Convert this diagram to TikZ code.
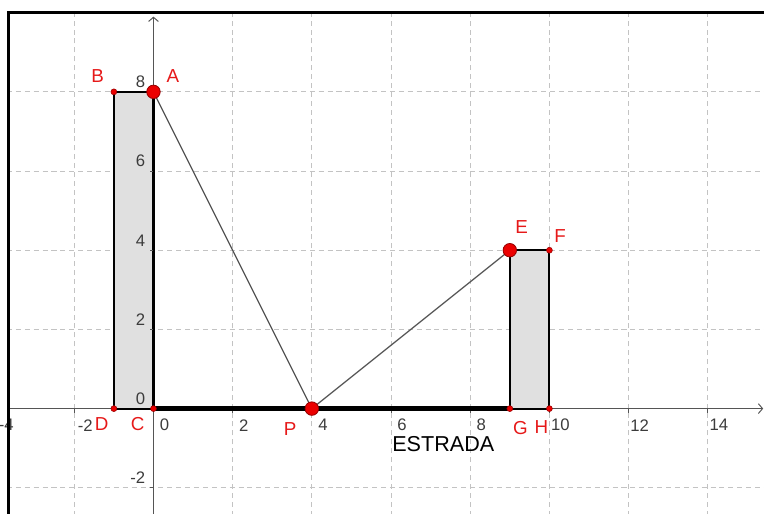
\documentclass[tikz,border=0pt]{standalone}
\usepackage{fontspec}
\setmainfont{Liberation Sans}
\usetikzlibrary{arrows.meta}
\definecolor{gridgray}{RGB}{195,195,195}
\definecolor{axisgray}{RGB}{85,85,85}
\definecolor{ticktext}{RGB}{60,60,60}
\definecolor{fillgray}{RGB}{224,224,224}
\definecolor{ptred}{RGB}{235,0,0}
\definecolor{ptedge}{RGB}{150,0,0}
\definecolor{lblred}{RGB}{230,25,25}

\begin{document}
\begin{tikzpicture}[
    gridline/.style={gridgray,line width=0.6pt,dash pattern=on 3.6pt off 2.8pt},
    axis/.style={axisgray,line width=0.7pt},
    building/.style={fill=fillgray,draw=black,line width=1.5pt,line join=miter},
    road/.style={black,line width=3.3pt},
    cable/.style={axisgray,line width=0.9pt},
    bigpt/.style={circle,fill=ptred,draw=ptedge,line width=0.6pt,minimum size=0.34cm,inner sep=0pt},
    smallpt/.style={circle,fill=ptred,draw=ptedge,line width=0.4pt,minimum size=0.15cm,inner sep=0pt},
    ptlbl/.style={text=lblred,font=\fontsize{13.5}{15}\selectfont,inner sep=0pt},
    ticklbl/.style={text=ticktext,font=\fontsize{12}{14}\selectfont,inner sep=0pt}
  ]
    \useasboundingbox (-3.876,-2.64) rectangle (15.42,10.32);

    % Frame corners
    \coordinate (fbot) at (-3.667,-2.7);
    \coordinate (fcorner) at (-3.667,10);
    \coordinate (fright) at (15.5,10);

    % Grid
    \begin{scope}
      \clip (-3.667,-2.7) rectangle (15.5,10);
      \foreach \x in {-2,2,4,...,14}
        \draw[gridline] (\x,-2.7) -- (\x,10);
      \foreach \y in {-2,2,4,6,8}
        \draw[gridline] (-3.7,\y) -- (15.5,\y);
    \end{scope}

    % Axes
    \coordinate (xstart) at (-3.667,0);
    \coordinate (xend) at (15.4,0);
    \coordinate (ybot) at (0,-2.7);
    \coordinate (ytop) at (0,9.9);
    \draw[axis,-{Straight Barb[length=3pt,width=7pt]}] (xstart) -- (xend);
    \draw[axis,-{Straight Barb[length=3pt,width=7pt]}] (ybot) -- (ytop);

    % Points of the problem
    \coordinate (A) at (0,8);
    \coordinate (B) at (-1,8);
    \coordinate (C) at (0,0);
    \coordinate (D) at (-1,0);
    \coordinate (P) at (4,0);
    \coordinate (E) at (9,4);
    \coordinate (F) at (10,4);
    \coordinate (G) at (9,0);
    \coordinate (H) at (10,0);

    % Buildings
    \draw[building] (B) -- (A) -- (C) -- (D) -- cycle;
    \draw[building] (E) -- (F) -- (H) -- (G) -- cycle;

    % Ticks
    \foreach \x in {-2,2,4,...,14}
      \draw[axis] (\x,0) -- (\x,-0.1);
    \foreach \y in {-2,2,4,6,8}
      \draw[axis] (0,\y) -- (-0.1,\y);
    \foreach \x in {-4,-2,0,2,4,...,14}
      \node[ticklbl] (tx\x) at (\x+0.28,-0.42) {\x};
    \foreach \y in {-2,0,2,4,6,8}
      \node[ticklbl,anchor=east] (ty\y) at (-0.2,\y+0.25) {\y};

    % Road and cables
    \draw[road] (C) -- (G);
    \draw[cable] (A) -- (P) -- (E);

    % Dots
    \foreach \p in {A,P,E}
      \node[bigpt] (dot\p) at (\p) {};
    \foreach \p in {B,C,D,F,G,H}
      \node[smallpt] (dot\p) at (\p) {};

    % Labels
    \node[ptlbl] (lA) at (0.49,8.41) {A};
    \node[ptlbl] (lB) at (-1.41,8.41) {B};
    \node[ptlbl] (lC) at (-0.4,-0.4) {C};
    \node[ptlbl] (lD) at (-1.31,-0.4) {D};
    \node[ptlbl] (lP) at (3.45,-0.52) {P};
    \node[ptlbl] (lE) at (9.30,4.58) {E};
    \node[ptlbl] (lF) at (10.27,4.37) {F};
    \node[ptlbl] (lG) at (9.27,-0.48) {G};
    \node[ptlbl] (lH) at (9.8,-0.47) {H};
    \node[text=black,font=\fontsize{15.5}{17}\selectfont,inner sep=0pt] (road) at (7.32,-0.9) {ESTRADA};

    % Frame
    \draw[black,line width=2pt] (fbot) -- (fcorner) -- (fright);
\end{tikzpicture}
\end{document}
